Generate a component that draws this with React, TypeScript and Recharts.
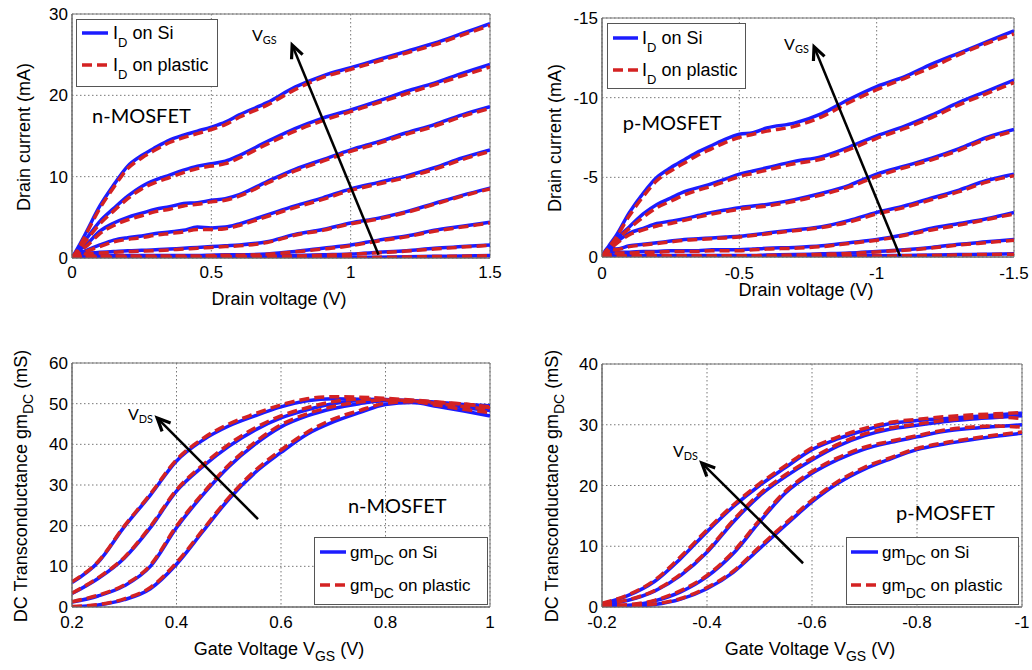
import React from "react";
import {
  CartesianGrid,
  Line,
  LineChart,
  ReferenceArea,
  ReferenceDot,
  ReferenceLine,
  XAxis,
  YAxis,
} from "recharts";

const BLUE = "#1c1cff";
const RED = "#d42222";
const DASH = "10 5";
const SANS = "'Liberation Sans', Arial, Helvetica, sans-serif";
const NOTE_FONT = "Lato, 'Open Sans', sans-serif";

// ---- top left: n-MOSFET output curves (mA vs V) ----
const vdN = [0, 0.025, 0.05, 0.1, 0.15, 0.2, 0.25, 0.3, 0.35, 0.4, 0.45, 0.5, 0.55, 0.6, 0.7, 0.8, 0.9, 1.0, 1.1, 1.2, 1.3, 1.4, 1.5];
const idSiN = [
  [0, 1.5, 3.1, 6.4, 9.0, 11.3, 12.6, 13.6, 14.5, 15.1, 15.6, 16.1, 16.7, 17.6, 19.1, 21.0, 22.4, 23.4, 24.4, 25.4, 26.4, 27.6, 28.8],
  [0, 1.2, 2.3, 4.5, 6.1, 7.6, 8.8, 9.6, 10.2, 10.8, 11.3, 11.6, 11.9, 12.6, 14.3, 15.9, 17.2, 18.2, 19.3, 20.5, 21.5, 22.7, 23.8],
  [0, 0.9, 1.6, 3.3, 4.3, 5.0, 5.5, 6.0, 6.3, 6.7, 6.8, 7.1, 7.3, 7.8, 9.4, 10.9, 12.1, 13.3, 14.3, 15.4, 16.4, 17.6, 18.6],
  [0, 0.5, 0.9, 1.6, 2.2, 2.5, 2.7, 3.0, 3.2, 3.4, 3.8, 3.7, 3.8, 4.2, 5.3, 6.4, 7.4, 8.5, 9.3, 10.1, 11.1, 12.3, 13.3],
  [0, 0.9, 0.6, 0.7, 0.8, 0.9, 0.95, 1.0, 1.1, 1.2, 1.3, 1.4, 1.5, 1.6, 2.0, 2.9, 3.5, 4.3, 4.9, 5.7, 6.7, 7.7, 8.6],
  [0, 0.6, 0.3, 0.3, 0.3, 0.3, 0.3, 0.3, 0.3, 0.3, 0.3, 0.35, 0.4, 0.4, 0.5, 0.8, 1.2, 1.6, 2.2, 2.7, 3.4, 3.9, 4.4],
  [0, 0.2, 0.15, 0.15, 0.15, 0.15, 0.15, 0.15, 0.15, 0.15, 0.15, 0.2, 0.2, 0.2, 0.25, 0.3, 0.4, 0.5, 0.7, 0.9, 1.2, 1.4, 1.6],
  [0, 0.05, 0.05, 0.05, 0.05, 0.05, 0.05, 0.05, 0.05, 0.05, 0.05, 0.05, 0.05, 0.05, 0.05, 0.05, 0.05, 0.05, 0.1, 0.15, 0.2, 0.25, 0.3],
];
const idPlN = [
  [0, 1.3, 2.9, 6.1, 8.7, 11.0, 12.3, 13.3, 14.2, 14.8, 15.3, 15.8, 16.4, 17.3, 18.8, 20.7, 22.2, 23.2, 24.2, 25.2, 26.2, 27.4, 28.6],
  [0, 1.0, 2.1, 4.2, 5.8, 7.3, 8.5, 9.3, 9.9, 10.5, 11.0, 11.3, 11.6, 12.3, 14.0, 15.6, 16.9, 18.0, 19.1, 20.2, 21.3, 22.4, 23.5],
  [0, 0.8, 1.4, 3.0, 4.0, 4.7, 5.2, 5.7, 6.0, 6.4, 6.6, 6.9, 7.1, 7.6, 9.2, 10.7, 11.9, 13.1, 14.1, 15.2, 16.2, 17.4, 18.4],
  [0, 0.4, 0.8, 1.4, 2.0, 2.3, 2.5, 2.8, 3.0, 3.2, 3.5, 3.5, 3.6, 4.0, 5.1, 6.2, 7.2, 8.3, 9.1, 9.9, 10.9, 12.1, 13.1],
  [0, 0.8, 0.5, 0.6, 0.7, 0.8, 0.85, 0.9, 1.0, 1.1, 1.2, 1.3, 1.4, 1.5, 1.9, 2.8, 3.4, 4.2, 4.8, 5.6, 6.6, 7.6, 8.5],
  [0, 0.5, 0.25, 0.25, 0.25, 0.25, 0.25, 0.25, 0.25, 0.25, 0.25, 0.3, 0.35, 0.35, 0.45, 0.75, 1.1, 1.5, 2.1, 2.6, 3.3, 3.8, 4.3],
  [0, 0.15, 0.1, 0.1, 0.1, 0.1, 0.1, 0.1, 0.1, 0.1, 0.1, 0.15, 0.15, 0.15, 0.2, 0.25, 0.35, 0.45, 0.65, 0.85, 1.1, 1.35, 1.55],
  [0, 0.03, 0.03, 0.03, 0.03, 0.03, 0.03, 0.03, 0.03, 0.03, 0.03, 0.03, 0.03, 0.03, 0.03, 0.03, 0.03, 0.03, 0.08, 0.12, 0.18, 0.22, 0.27],
];

// ---- top right: p-MOSFET output curves ----
const vdP = [0, -0.025, -0.05, -0.1, -0.15, -0.2, -0.25, -0.3, -0.35, -0.4, -0.45, -0.5, -0.55, -0.6, -0.7, -0.8, -0.9, -1.0, -1.1, -1.2, -1.3, -1.4, -1.5];
const idSiP = [
  [0, -0.7, -1.3, -2.8, -4.0, -5.0, -5.6, -6.1, -6.6, -7.0, -7.4, -7.7, -7.8, -8.1, -8.4, -9.0, -9.9, -10.7, -11.3, -12.1, -12.8, -13.5, -14.2],
  [0, -0.6, -1.1, -1.9, -2.7, -3.3, -3.7, -4.1, -4.35, -4.6, -4.9, -5.2, -5.4, -5.6, -6.0, -6.3, -6.9, -7.6, -8.2, -8.9, -9.7, -10.4, -11.1],
  [0, -0.5, -0.9, -1.5, -1.8, -2.1, -2.25, -2.4, -2.6, -2.8, -2.95, -3.1, -3.2, -3.3, -3.6, -4.0, -4.5, -5.2, -5.7, -6.2, -6.8, -7.5, -8.0],
  [0, -0.6, -0.5, -0.7, -0.8, -0.9, -1.0, -1.1, -1.15, -1.2, -1.25, -1.3, -1.4, -1.5, -1.7, -1.9, -2.3, -2.8, -3.2, -3.7, -4.2, -4.8, -5.2],
  [0, -0.4, -0.3, -0.3, -0.35, -0.35, -0.4, -0.4, -0.4, -0.45, -0.45, -0.45, -0.5, -0.55, -0.6, -0.7, -0.9, -1.1, -1.4, -1.8, -2.1, -2.4, -2.8],
  [0, -0.2, -0.1, -0.1, -0.1, -0.1, -0.1, -0.1, -0.1, -0.1, -0.1, -0.1, -0.1, -0.12, -0.15, -0.2, -0.25, -0.35, -0.45, -0.6, -0.8, -0.95, -1.1],
  [0, -0.05, -0.05, -0.05, -0.05, -0.05, -0.05, -0.05, -0.05, -0.05, -0.05, -0.05, -0.05, -0.05, -0.05, -0.06, -0.07, -0.08, -0.1, -0.12, -0.15, -0.18, -0.2],
];
const idPlP = [
  [0, -0.6, -1.2, -2.6, -3.8, -4.8, -5.4, -5.9, -6.4, -6.8, -7.2, -7.5, -7.7, -7.9, -8.2, -8.8, -9.7, -10.5, -11.2, -11.9, -12.7, -13.4, -14.0],
  [0, -0.5, -1.0, -1.8, -2.5, -3.1, -3.5, -3.9, -4.2, -4.45, -4.75, -5.05, -5.25, -5.45, -5.85, -6.15, -6.75, -7.45, -8.05, -8.75, -9.55, -10.25, -10.95],
  [0, -0.4, -0.8, -1.4, -1.7, -1.95, -2.1, -2.3, -2.5, -2.7, -2.85, -3.0, -3.1, -3.2, -3.5, -3.9, -4.4, -5.05, -5.6, -6.1, -6.7, -7.4, -7.9],
  [0, -0.5, -0.45, -0.65, -0.75, -0.85, -0.95, -1.05, -1.1, -1.15, -1.2, -1.25, -1.35, -1.45, -1.65, -1.85, -2.2, -2.7, -3.1, -3.6, -4.1, -4.7, -5.1],
  [0, -0.35, -0.25, -0.25, -0.3, -0.3, -0.35, -0.35, -0.35, -0.4, -0.4, -0.4, -0.45, -0.5, -0.55, -0.65, -0.85, -1.05, -1.35, -1.7, -2.0, -2.35, -2.7],
  [0, -0.15, -0.08, -0.08, -0.08, -0.08, -0.08, -0.08, -0.08, -0.08, -0.08, -0.08, -0.08, -0.1, -0.13, -0.17, -0.22, -0.32, -0.42, -0.56, -0.75, -0.9, -1.05],
  [0, -0.03, -0.03, -0.03, -0.03, -0.03, -0.03, -0.03, -0.03, -0.03, -0.03, -0.03, -0.03, -0.03, -0.03, -0.04, -0.05, -0.06, -0.08, -0.1, -0.13, -0.16, -0.18],
];

// ---- bottom left: n-MOSFET transconductance (mS vs VGS) ----
const vgN = [0.2, 0.25, 0.3, 0.35, 0.4, 0.45, 0.5, 0.55, 0.6, 0.65, 0.7, 0.75, 0.8, 0.85, 0.9, 0.95, 1.0];
const gmSiN = [
  [6.0, 11.0, 19.7, 27.5, 35.9, 41.0, 44.5, 47.0, 49.2, 50.7, 51.2, 51.1, 51.0, 50.8, 50.3, 49.7, 48.8],
  [3.3, 7.0, 12.0, 19.5, 28.5, 34.5, 39.5, 43.5, 46.5, 48.5, 50.0, 50.7, 50.8, 50.6, 50.2, 49.8, 49.5],
  [1.2, 2.7, 5.2, 10.0, 19.5, 27.5, 34.5, 40.0, 44.3, 47.0, 48.8, 50.0, 50.7, 50.5, 49.8, 49.0, 48.3],
  [0, 0.5, 1.8, 4.5, 10.5, 18.5, 26.5, 33.0, 38.0, 42.5, 45.5, 47.8, 49.8, 50.3, 49.3, 48.2, 47.0],
];
const gmPlN = [
  [6.2, 11.2, 19.9, 27.8, 36.2, 41.4, 45.0, 47.5, 49.7, 51.2, 51.7, 51.6, 51.3, 50.9, 50.4, 49.9, 49.2],
  [3.4, 7.2, 12.2, 19.8, 28.8, 34.9, 40.0, 44.0, 47.0, 49.0, 50.5, 51.1, 51.0, 50.7, 50.3, 49.9, 49.0],
  [1.3, 2.9, 5.4, 10.3, 19.9, 27.9, 34.9, 40.5, 44.8, 47.5, 49.3, 50.4, 50.9, 50.7, 50.0, 49.3, 48.6],
  [0.1, 0.6, 2.0, 4.8, 10.9, 18.9, 26.9, 33.5, 38.6, 43.0, 46.2, 48.3, 50.1, 50.5, 49.6, 48.6, 47.8],
];

// ---- bottom right: p-MOSFET transconductance ----
const vgP = [-0.2, -0.25, -0.3, -0.35, -0.4, -0.45, -0.5, -0.55, -0.6, -0.65, -0.7, -0.75, -0.8, -0.85, -0.9, -0.95, -1.0];
const gmSiP = [
  [0.5, 1.9, 4.2, 8.0, 12.4, 16.5, 20.0, 23.0, 25.9, 27.7, 29.1, 30.2, 30.7, 31.0, 31.3, 31.6, 31.9],
  [0.4, 1.1, 2.6, 5.2, 9.0, 14.0, 18.3, 21.5, 24.2, 26.5, 28.2, 29.3, 29.9, 30.5, 30.9, 31.2, 31.5],
  [0.2, 0.3, 1.0, 2.5, 5.0, 8.8, 14.0, 18.8, 22.0, 24.3, 26.0, 27.1, 28.0, 28.9, 29.4, 29.7, 30.0],
  [0, 0.1, 0.4, 1.3, 3.0, 5.7, 9.6, 13.5, 17.3, 20.4, 22.7, 24.4, 25.9, 26.8, 27.5, 28.1, 28.6],
];
const gmPlP = [
  [0.6, 2.0, 4.4, 8.3, 12.7, 16.8, 20.3, 23.3, 26.2, 28.0, 29.4, 30.4, 30.9, 31.3, 31.6, 31.8, 32.0],
  [0.5, 1.2, 2.7, 5.4, 9.2, 14.3, 18.6, 21.8, 24.5, 26.8, 28.5, 29.5, 30.1, 30.7, 31.1, 31.3, 31.0],
  [0.3, 0.4, 1.1, 2.7, 5.2, 9.1, 14.3, 19.1, 22.3, 24.6, 26.3, 27.3, 28.2, 29.1, 29.6, 29.8, 29.6],
  [0.1, 0.2, 0.5, 1.4, 3.2, 5.9, 9.9, 13.8, 17.6, 20.7, 23.0, 24.6, 26.1, 27.0, 27.7, 28.3, 28.8],
];

function buildRows(xs: number[], si: number[][], pl: number[][]) {
  return xs.map((x, i) => {
    const row: Record<string, number> = { x };
    si.forEach((s, k) => (row[`si${k}`] = s[i]));
    pl.forEach((s, k) => (row[`pl${k}`] = s[i]));
    return row;
  });
}

function Arrow(props: any) {
  const { x1, y1, x2, y2 } = props;
  const a = Math.atan2(y2 - y1, x2 - x1);
  const L = 13;
  const W = 6;
  const bx = x2 - L * Math.cos(a);
  const by = y2 - L * Math.sin(a);
  const p1 = `${bx + W * Math.sin(a)},${by - W * Math.cos(a)}`;
  const p2 = `${bx - W * Math.sin(a)},${by + W * Math.cos(a)}`;
  return (
    <g>
      <line x1={x1} y1={y1} x2={x2 - 2 * Math.cos(a)} y2={y2 - 2 * Math.sin(a)} stroke="#000" strokeWidth={2.5} />
      <polyline points={`${p1} ${x2},${y2} ${p2}`} fill="none" stroke="#000" strokeWidth={3.2} strokeLinejoin="miter" />
    </g>
  );
}

function noteShape(main: string, sub: string | null, size: number) {
  return (p: any) => (
    <text x={p.cx} y={p.cy} fontFamily={NOTE_FONT} fontSize={size} fill="#000">
      {main}
      {sub && (
        <tspan dy={3} fontSize={size * 0.68}>
          {sub}
        </tspan>
      )}
    </text>
  );
}

type Note = { x: number; y: number; main: string; sub: string | null; size: number };

type PanelProps = {
  left: number;
  top: number;
  width: number;
  height: number;
  margin: { top: number; right: number; left: number; bottom: number };
  yWidth: number;
  xHeight: number;
  xDomain: [number, number];
  yDomain: [number, number];
  xTicks: number[];
  yTicks: number[];
  xReversed?: boolean;
  yReversed?: boolean;
  xTickMargin: number;
  rows: Record<string, number>[];
  count: number;
  notes: Note[];
  arrow: [{ x: number; y: number }, { x: number; y: number }];
};

function Panel(p: PanelProps) {
  const keys = Array.from({ length: p.count }, (_, k) => k);
  const tick = { fontSize: 17, fill: "#000", fontFamily: SANS };
  return (
    <div style={{ position: "absolute", left: p.left, top: p.top }}>
      <LineChart width={p.width} height={p.height} data={p.rows} margin={p.margin}>
        <CartesianGrid stroke="#777" strokeDasharray="1.5 2.5" />
        <XAxis
          dataKey="x"
          type="number"
          domain={p.xDomain}
          ticks={p.xTicks}
          interval={0}
          reversed={p.xReversed}
          allowDataOverflow
          height={p.xHeight}
          tick={tick}
          tickLine={false}
          tickSize={0}
          tickMargin={p.xTickMargin}
          axisLine={{ stroke: "#666" }}
          tickFormatter={(v: number) => String(v)}
        />
        <YAxis
          type="number"
          domain={p.yDomain}
          ticks={p.yTicks}
          interval={0}
          reversed={p.yReversed}
          allowDataOverflow
          width={p.yWidth}
          tick={tick}
          tickLine={false}
          tickSize={0}
          tickMargin={4}
          axisLine={{ stroke: "#666" }}
          tickFormatter={(v: number) => String(v)}
        />
        <ReferenceArea
          x1={p.xDomain[0]}
          x2={p.xDomain[1]}
          y1={p.yDomain[0]}
          y2={p.yDomain[1]}
          fill="none"
          fillOpacity={0}
          stroke="#777"
          strokeWidth={1}
        />
        {keys.map((k) => (
          <Line
            key={`si${k}`}
            dataKey={`si${k}`}
            type="monotone"
            stroke={BLUE}
            strokeWidth={3.5}
            dot={false}
            isAnimationActive={false}
          />
        ))}
        {keys.map((k) => (
          <Line
            key={`pl${k}`}
            dataKey={`pl${k}`}
            type="monotone"
            stroke={RED}
            strokeWidth={3.5}
            strokeDasharray={DASH}
            dot={false}
            isAnimationActive={false}
          />
        ))}
        <ReferenceLine segment={p.arrow} shape={Arrow} ifOverflow="visible" />
        {p.notes.map((n, i) => (
          <ReferenceDot key={i} x={n.x} y={n.y} r={1} ifOverflow="visible" shape={noteShape(n.main, n.sub, n.size)} />
        ))}
      </LineChart>
    </div>
  );
}

type LegendProps = { x: number; y: number; w: number; h: number; rows: [number, number]; sx: [number, number]; tx: number; base: string; sub: string; size: number; subSize: number; drop: number };

function LegendBox(l: LegendProps) {
  const labels = ["on Si", "on plastic"];
  return (
    <g>
      <rect x={l.x + 0.5} y={l.y + 0.5} width={l.w} height={l.h} fill="#fff" stroke="#555" strokeWidth={1} />
      {l.rows.map((ry, i) => (
        <g key={i}>
          <line
            x1={l.sx[0]}
            x2={l.sx[1]}
            y1={ry}
            y2={ry}
            stroke={i === 0 ? BLUE : RED}
            strokeWidth={3.5}
            strokeDasharray={i === 0 ? undefined : "10 5"}
          />
          <text x={l.tx} y={ry + l.size * 0.36} fontFamily={SANS} fontSize={l.size} fill="#000">
            {l.base}
            <tspan dy={l.drop} fontSize={l.subSize}>
              {l.sub}
            </tspan>
            <tspan dy={-l.drop}> {labels[i]}</tspan>
          </text>
        </g>
      ))}
    </g>
  );
}

const rowsTL = buildRows(vdN, idSiN, idPlN);
const rowsTR = buildRows(vdP, idSiP, idPlP);
const rowsBL = buildRows(vgN, gmSiN, gmPlN);
const rowsBR = buildRows(vgP, gmSiP, gmPlP);

export default function App() {
  return (
    <div style={{ position: "absolute", left: 0, top: 0, width: 1032, height: 670, background: "#fff", overflow: "hidden" }}>
      <Panel
        left={0}
        top={0}
        width={516}
        height={300}
        margin={{ top: 14, right: 26, left: 0, bottom: 0 }}
        yWidth={72}
        xHeight={42}
        xDomain={[0, 1.5]}
        yDomain={[0, 30]}
        xTicks={[0, 0.5, 1, 1.5]}
        yTicks={[0, 10, 20, 30]}
        xTickMargin={8}
        rows={rowsTL}
        count={idSiN.length}
        arrow={[{ x: 1.1, y: 0.4 }, { x: 0.79, y: 26.2 }]}
        notes={[
          { x: 0.072, y: 16.6, main: "n-MOSFET", sub: null, size: 20 },
          { x: 0.646, y: 26.7, main: "V", sub: "GS", size: 16 },
        ]}
      />
      <Panel
        left={516}
        top={0}
        width={516}
        height={300}
        margin={{ top: 18, right: 18, left: 0, bottom: 0 }}
        yWidth={86}
        xHeight={43}
        xDomain={[-1.5, 0]}
        yDomain={[-15, 0]}
        xReversed
        yReversed
        xTicks={[0, -0.5, -1, -1.5]}
        yTicks={[0, -5, -10, -15]}
        xTickMargin={10}
        rows={rowsTR}
        count={idSiP.length}
        arrow={[{ x: -1.085, y: -0.06 }, { x: -0.772, y: -13.2 }]}
        notes={[
          { x: -0.076, y: -7.97, main: "p-MOSFET", sub: null, size: 20 },
          { x: -0.663, y: -13.0, main: "V", sub: "GS", size: 16 },
        ]}
      />
      <Panel
        left={0}
        top={340}
        width={516}
        height={330}
        margin={{ top: 23, right: 26, left: 0, bottom: 0 }}
        yWidth={72}
        xHeight={63}
        xDomain={[0.2, 1]}
        yDomain={[0, 60]}
        xTicks={[0.2, 0.4, 0.6, 0.8, 1]}
        yTicks={[0, 10, 20, 30, 40, 50, 60]}
        xTickMargin={9}
        rows={rowsBL}
        count={gmSiN.length}
        arrow={[{ x: 0.556, y: 21.6 }, { x: 0.363, y: 46.5 }]}
        notes={[
          { x: 0.728, y: 23.1, main: "n-MOSFET", sub: null, size: 20 },
          { x: 0.307, y: 46.0, main: "V", sub: "DS", size: 16 },
        ]}
      />
      <Panel
        left={516}
        top={340}
        width={516}
        height={330}
        margin={{ top: 24, right: 10, left: 0, bottom: 0 }}
        yWidth={86}
        xHeight={63}
        xDomain={[-1, -0.2]}
        yDomain={[0, 40]}
        xReversed
        xTicks={[-0.2, -0.4, -0.6, -0.8, -1]}
        yTicks={[0, 10, 20, 30, 40]}
        xTickMargin={9}
        rows={rowsBR}
        count={gmSiP.length}
        arrow={[{ x: -0.583, y: 7.2 }, { x: -0.39, y: 23.7 }]}
        notes={[
          { x: -0.76, y: 14.3, main: "p-MOSFET", sub: null, size: 20 },
          { x: -0.335, y: 24.7, main: "V", sub: "DS", size: 16 },
        ]}
      />
      <svg width={1032} height={670} style={{ position: "absolute", left: 0, top: 0, pointerEvents: "none" }}>
        <g fontFamily={SANS} fontSize={18} fill="#000">
          <text transform="translate(30,137) rotate(-90)" textAnchor="middle">Drain current (mA)</text>
          <text x={279} y={305} textAnchor="middle">Drain voltage (V)</text>
          <text transform="translate(561,138) rotate(-90)" textAnchor="middle">Drain current (mA)</text>
          <text x={806} y={296} textAnchor="middle">Drain voltage (V)</text>
          <text transform="translate(27,486) rotate(-90)" textAnchor="middle">
            DC Transconductance gm<tspan dy={6} fontSize={14}>DC</tspan>
            <tspan dy={-6}> (mS)</tspan>
          </text>
          <text x={279} y={655} textAnchor="middle">
            Gate Voltage V<tspan dy={6} fontSize={14}>GS</tspan>
            <tspan dy={-6}> (V)</tspan>
          </text>
          <text transform="translate(558,486) rotate(-90)" textAnchor="middle">
            DC Transconductance gm<tspan dy={6} fontSize={14}>DC</tspan>
            <tspan dy={-6}> (mS)</tspan>
          </text>
          <text x={810} y={655} textAnchor="middle">
            Gate Voltage V<tspan dy={6} fontSize={14}>GS</tspan>
            <tspan dy={-6}> (V)</tspan>
          </text>
        </g>
        <LegendBox x={76} y={19} w={141} h={67} rows={[33, 65]} sx={[82, 108]} tx={113} base="I" sub="D" size={18} subSize={13} drop={8} />
        <LegendBox x={607} y={23} w={138} h={65} rows={[38, 70]} sx={[613, 638]} tx={642} base="I" sub="D" size={18} subSize={13} drop={8} />
        <LegendBox x={314} y={537} w={173} h={67} rows={[552, 585]} sx={[320, 346]} tx={350} base="gm" sub="DC" size={17} subSize={14} drop={7} />
        <LegendBox x={846} y={537} w={172} h={67} rows={[552, 585]} sx={[851, 878]} tx={882} base="gm" sub="DC" size={17} subSize={14} drop={7} />
      </svg>
    </div>
  );
}
